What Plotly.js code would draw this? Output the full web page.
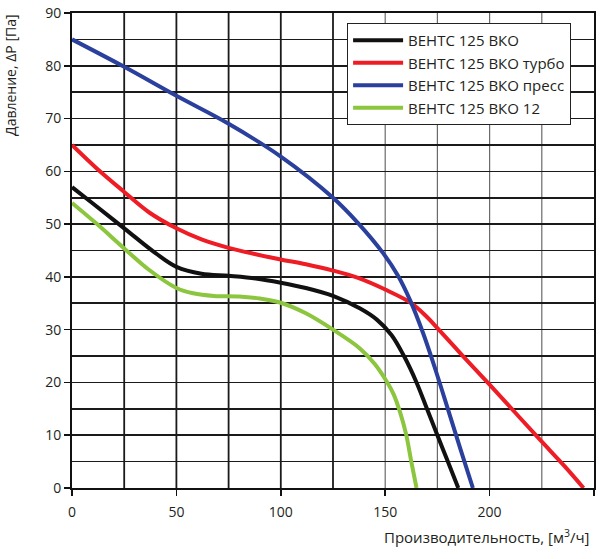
<!DOCTYPE html>
<html>
<head>
<meta charset="utf-8">
<script src="https://cdn.plot.ly/plotly-3.0.1.min.js"></script>
<style>html,body{margin:0;padding:0;background:#fff;}#chart{width:600px;height:559px;}</style>
</head>
<body>
<div id="chart"></div>
<script>
// Series names
const seriesNames = ["ВЕНТС 125 ВКО", "ВЕНТС 125 ВКО турбо", "ВЕНТС 125 ВКО пресс", "ВЕНТС 125 ВКО 12"];
const seriesColors = ["#111111", "#ee1c25", "#2b3f9c", "#8cc63e"];

// ВЕНТС 125 ВКО
const baseX = [0, 10, 25, 40, 50, 62, 75, 88, 100, 112, 125, 138, 146, 153, 159, 165, 170, 175, 180, 185];
const baseY = [57, 53.9, 49.2, 44.5, 41.9, 40.6, 40.2, 39.7, 38.9, 37.9, 36.4, 34, 31.9, 29, 25, 20, 15, 10, 5, 0];

// ВЕНТС 125 ВКО турбо
const turboX = [0, 12, 25, 37, 50, 62, 75, 88, 100, 112, 125, 137, 150, 162.6, 170, 175, 187, 200, 212, 224, 236, 245];
const turboY = [65, 60.5, 56.1, 52.2, 49.2, 47.1, 45.5, 44.3, 43.3, 42.4, 41.2, 39.8, 37.6, 35, 32.4, 30.3, 25.1, 19.6, 14.4, 9.2, 4.1, 0];

// ВЕНТС 125 ВКО пресс
const pressX = [0, 25, 50, 75, 100, 125, 137, 149, 156, 162, 168, 174, 180, 186, 192];
const pressY = [85, 79.8, 74.3, 69, 62.8, 55, 50.2, 44.5, 40.3, 35.5, 29.5, 22.5, 15, 7.4, 0];

// ВЕНТС 125 ВКО 12
const v12X = [0, 12, 25, 37, 50, 58, 68, 80, 90, 100, 112, 125, 138, 145, 151, 154, 157, 160, 162.5, 165];
const v12Y = [54, 50, 45.4, 41.3, 37.9, 36.9, 36.4, 36.3, 35.9, 35.1, 33.1, 30, 26.4, 23.5, 20, 17.8, 14.5, 10.2, 5, 0];

// Axis ticks and grid positions
const xTickVals = [0, 50, 100, 150, 200, 250];
const yTickVals = [0, 10, 20, 30, 40, 50, 60, 70, 80, 90];
const xGridStrong = [25, 50, 75, 100, 125];
const xGridLight = [150, 175, 200, 225];

const xTitle = "Производительность, [м<sup>3</sup>/ч]";
const yTitle = "Давление, ΔP [Па]";

const seriesX = [baseX, turboX, pressX, v12X];
const seriesY = [baseY, turboY, pressY, v12Y];

const traces = seriesNames.map((name, i) => ({
  x: seriesX[i], y: seriesY[i], name: name, type: "scatter", mode: "lines",
  legendgroup: "g" + i,
  line: {color: seriesColors[i], width: 4, shape: "spline", smoothing: 1.0},
  hoverinfo: "skip"
}));

const shapes = [];
xGridStrong.forEach(v => shapes.push({type: "line", xref: "x", yref: "paper", x0: v, x1: v, y0: 0, y1: 1, layer: "below", line: {color: "#1a1a1a", width: 1.8}}));
xGridLight.forEach(v => shapes.push({type: "line", xref: "x", yref: "paper", x0: v, x1: v, y0: 0, y1: 1, layer: "below", line: {color: "#6a6a6a", width: 1.2}}));

const fontFam = "'Open Sans', 'Liberation Sans', sans-serif";

const layout = {
  width: 600, height: 559,
  margin: {l: 72, r: 6, t: 13, b: 71},
  paper_bgcolor: "#ffffff", plot_bgcolor: "#ffffff",
  font: {family: fontFam, size: 14, color: "#231f20"},
  showlegend: true,
  legend: {
    x: 0.527, y: 0.979, xanchor: "left", yanchor: "top",
    bgcolor: "#ffffff", bordercolor: "#222222", borderwidth: 1,
    font: {family: fontFam, size: 15, color: "#231f20"},
    tracegroupgap: 6, traceorder: "normal", itemwidth: 50
  },
  xaxis: {
    range: [0, 250], tickvals: xTickVals, showgrid: false, zeroline: false,
    showline: true, linecolor: "#111", linewidth: 2, mirror: true,
    ticks: "outside", ticklen: 6, tickwidth: 1.5, tickcolor: "#111",
    ticklabelstandoff: 4,
    tickfont: {size: 14, color: "#231f20"}, fixedrange: true
  },
  yaxis: {
    range: [0, 90], tickvals: yTickVals, showgrid: true, gridcolor: "#1a1a1a", gridwidth: 1.6,
    minor: {dtick: 5, tick0: 0, showgrid: true, gridcolor: "#1a1a1a", gridwidth: 1.6},
    zeroline: false, showline: true, linecolor: "#111", linewidth: 2, mirror: true,
    ticks: "outside", ticklen: 6, tickwidth: 1.5, tickcolor: "#111",
    tickfont: {size: 14, color: "#231f20"}, fixedrange: true
  },
  shapes: shapes,
  annotations: [
    {text: yTitle, xref: "paper", yref: "paper", x: -0.118, y: 1.0, xanchor: "center", yanchor: "top",
     textangle: -90, showarrow: false, font: {size: 14, color: "#231f20"}},
    {text: xTitle, xref: "paper", yref: "paper", x: 0.994, y: -0.103, xanchor: "right", yanchor: "middle",
     showarrow: false, font: {size: 15, color: "#231f20"}}
  ]
};

Plotly.newPlot("chart", traces, layout, {staticPlot: true, displayModeBar: false});
</script>
</body>
</html>
